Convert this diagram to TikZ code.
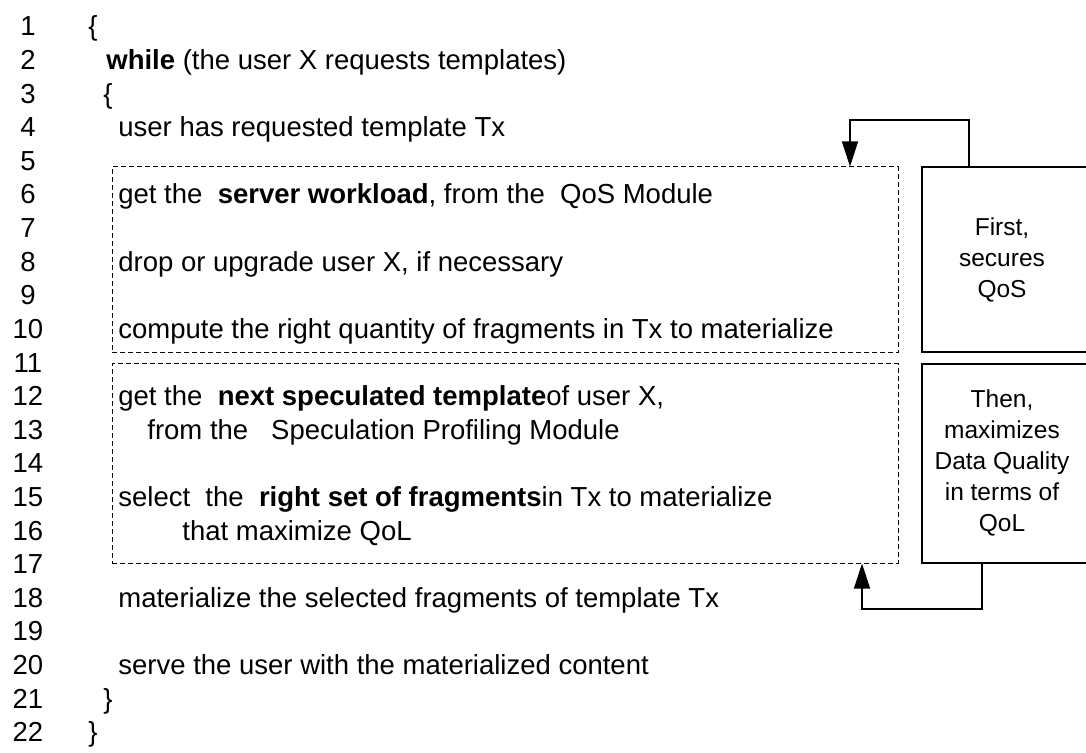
\documentclass[tikz,border=0pt]{standalone}
\usepackage{fontspec}
\setmainfont{Liberation Sans}
\usetikzlibrary{arrows.meta,fit}

\begin{document}
\begin{tikzpicture}[x=0.5pt,y=-0.5pt,
    num/.style={anchor=base,inner sep=0pt,font=\fontsize{13.75}{16}\selectfont},
    txt/.style={anchor=base west,inner sep=0pt,font=\fontsize{13.75}{16}\selectfont},
    dashbox/.style={draw,line width=0.5pt,dash pattern=on 2.5pt off 1.5pt,inner sep=0pt},
    notebox/.style={draw,line width=0.65pt,inner sep=0pt},
    note/.style={align=center,inner sep=0pt,font=\fontsize{12.25}{15.5}\selectfont},
    arr/.style={line width=0.65pt,-{Triangle[length=12.5pt,width=8pt]}}]
        \useasboundingbox (0,0) rectangle (1086,753);
        % line numbers
        \node[num] (n1) at (28,36) {1};
        \node[num] (n2) at (28,69.6) {2};
        \node[num] (n3) at (28,103.2) {3};
        \node[num] (n4) at (28,136.8) {4};
        \node[num] (n5) at (28,170.4) {5};
        \node[num] (n6) at (28,204) {6};
        \node[num] (n7) at (28,237.6) {7};
        \node[num] (n8) at (28,271.2) {8};
        \node[num] (n9) at (28,304.8) {9};
        \node[num] (n10) at (28,338.4) {10};
        \node[num] (n11) at (28,372) {11};
        \node[num] (n12) at (28,405.6) {12};
        \node[num] (n13) at (28,439.2) {13};
        \node[num] (n14) at (28,472.8) {14};
        \node[num] (n15) at (28,506.4) {15};
        \node[num] (n16) at (28,540) {16};
        \node[num] (n17) at (28,573.6) {17};
        \node[num] (n18) at (28,607.2) {18};
        \node[num] (n19) at (28,640.8) {19};
        \node[num] (n20) at (28,674.4) {20};
        \node[num] (n21) at (28,708) {21};
        \node[num] (n22) at (28,741.6) {22};
        % program text
        \node[txt] (l1) at (88,36) {\{};
        \node[txt] (l2) at (106,69.6) {\textbf{while} (the user X requests templates)};
        \node[txt] (l3) at (103,103.2) {\{};
        \node[txt] (l4) at (118,136.8) {user has requested template Tx};
        \node[txt] (l6) at (118,204) {get the\ \ \textbf{server workload}, from the\ \ QoS Module};
        \node[txt] (l8) at (118,271.2) {drop or upgrade user X, if necessary};
        \node[txt] (l10) at (118,338.4) {compute the right quantity of fragments in Tx to materialize};
        \node[txt] (l12) at (118,405.6) {get the\ \ \textbf{next speculated template}of user X,};
        \node[txt] (l13) at (147,439.2) {from the\ \ \ Speculation Profiling Module};
        \node[txt] (l15) at (118,506.4) {select\ \ the\ \ \textbf{right set of fragments}in Tx to materialize};
        \node[txt] (l16) at (182,540) {that maximize QoL};
        \node[txt] (l18) at (118,607.2) {materialize the selected fragments of template Tx};
        \node[txt] (l20) at (118,674.4) {serve the user with the materialized content};
        \node[txt] (l21) at (103,708) {\}};
        \node[txt] (l22) at (88,741.6) {\}};
        % blocks
        \node[dashbox,fit={(112,167) (898,353)}] (qosblock) {};
        \node[dashbox,fit={(112,364) (898,563)}] (qolblock) {};
        \node[notebox,fit={(922,167) (1100,352)}] (secbox) {};
        \node[notebox,fit={(922,364) (1100,563)}] (dqbox) {};
        \node[note] (secnote) at (1002,259.5) {First,\\secures\\QoS};
        \node[note] (dqnote) at (1002,463) {Then,\\maximizes\\Data Quality\\in terms of\\QoL};
        % feedback arrows
        \coordinate (k1) at (969,120);
        \coordinate (k2) at (850,120);
        \coordinate (k3) at (982,609);
        \coordinate (k4) at (862,609);
        \draw[arr] (secbox.north -| k1) -- (k1) -- (k2) -- (qosblock.north -| k2);
        \draw[arr] (dqbox.south -| k3) -- (k3) -- (k4) -- (qolblock.south -| k4);
    \end{tikzpicture}
\end{document}
